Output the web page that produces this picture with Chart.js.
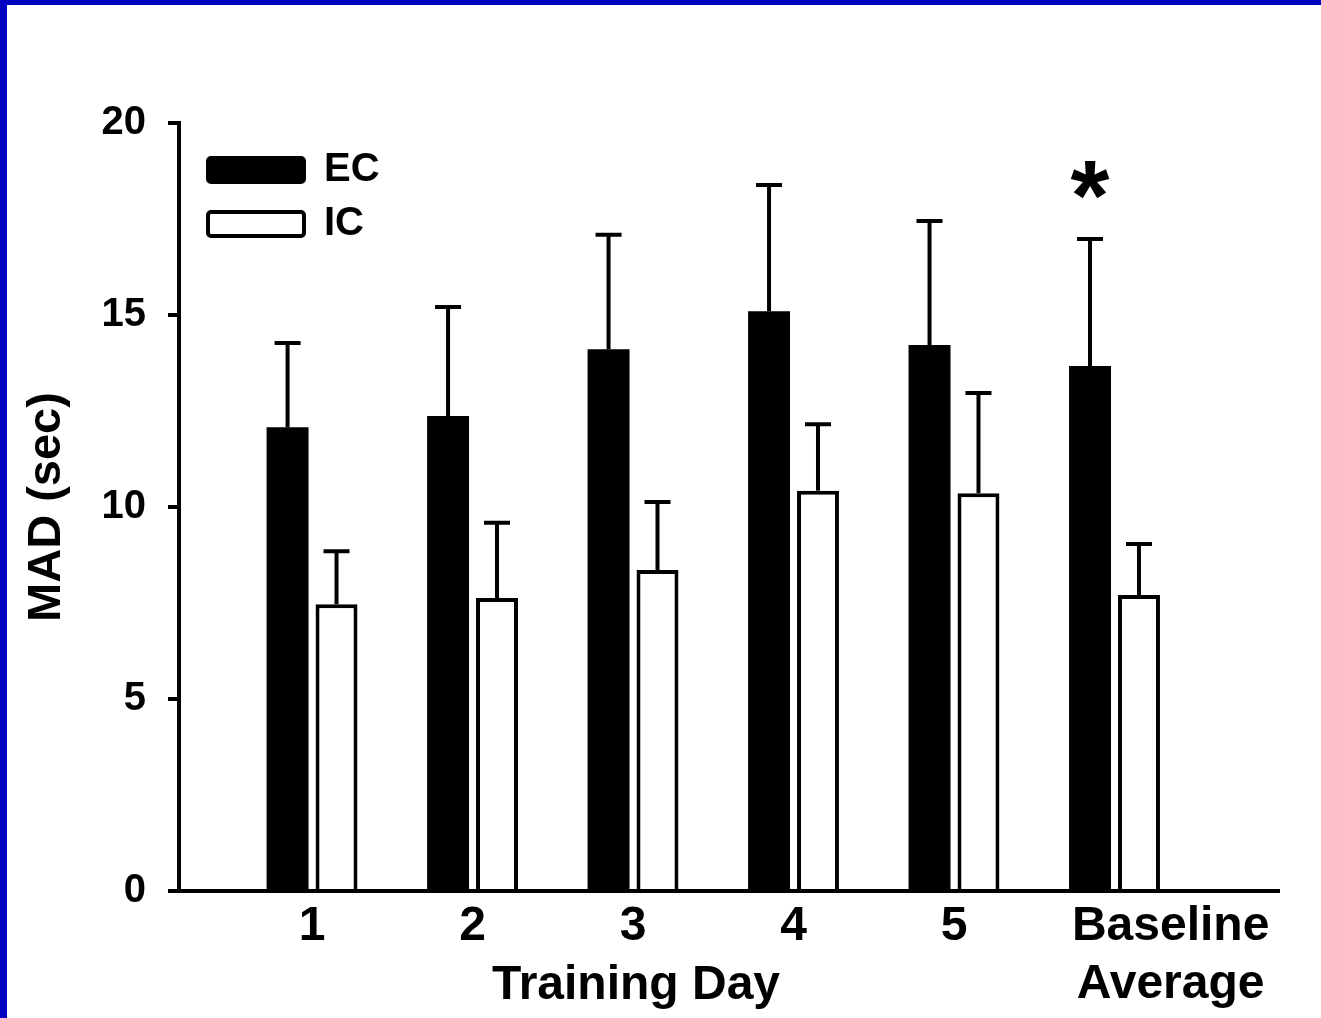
<!DOCTYPE html>
<html>
<head>
<meta charset="utf-8">
<script src="https://cdn.jsdelivr.net/npm/chart.js@4"></script>
<style>
  html, body { margin: 0; padding: 0; background: #fff; }
  #frame { width: 1314px; height: 1013px; border-left: 7px solid #0000c0; border-top: 5px solid #0000c0; background: #fff; }
  canvas { display: block; }
</style>
</head>
<body>
<div id="frame"><canvas id="madChart" width="1314" height="1013"></canvas></div>
<script>
// MAD per training day, EC vs IC (mean + upper SEM)
const dayLabels = ['1', '2', '3', '4', '5', ['Baseline', 'Average']];
const ecMean = [12.08, 12.37, 14.11, 15.10, 14.22, 13.67];
const ecErr  = [2.24, 2.89, 3.03, 3.34, 3.28, 3.36];
const icMean = [7.47, 7.63, 8.36, 10.42, 10.36, 7.71];
const icErr  = [1.43, 2.01, 1.82, 1.79, 2.66, 1.38];
const sigMarks = ['', '', '', '', '', '*'];
const yTicks = [0, 5, 10, 15, 20];

const FONT = "'Liberation Sans', Arial, sans-serif";

// upward-only error bars with caps
const errorBars = {
    id: 'errorBars',
    afterDatasetsDraw(chart) {
        const ctx = chart.ctx;
        const yScale = chart.scales.y;
        chart.data.datasets.forEach(function(ds, d) {
            const meta = chart.getDatasetMeta(d);
            meta.data.forEach(function(bar, i) {
                const top = yScale.getPixelForValue(ds.data[i].y + ds.errors[i]) + 2;
                ctx.save();
                ctx.strokeStyle = '#000';
                ctx.lineWidth = 4;
                ctx.beginPath();
                ctx.moveTo(bar.x, bar.y);
                ctx.lineTo(bar.x, top);
                ctx.moveTo(bar.x - 13, top);
                ctx.lineTo(bar.x + 13, top);
                ctx.stroke();
                ctx.restore();
            });
        });
    }
};

// asterisk above EC bar + "Training Day" under days 1-5
const extraText = {
    id: 'extraText',
    afterDraw(chart) {
        const ctx = chart.ctx;
        const xScale = chart.scales.x;
        const yScale = chart.scales.y;
        const meta = chart.getDatasetMeta(0);
        ctx.save();
        ctx.fillStyle = '#000';
        ctx.textAlign = 'center';
        ctx.font = 'bold 100px ' + FONT;
        sigMarks.forEach(function(mark, i) {
            if (!mark) return;
            const bar = meta.data[i];
            const cy = yScale.getPixelForValue(ecMean[i] + ecErr[i]) - 57;
            const m = ctx.measureText(mark);
            const base = cy - (m.actualBoundingBoxDescent - m.actualBoundingBoxAscent) / 2;
            ctx.textBaseline = 'alphabetic';
            ctx.fillText(mark, bar.x, base);
        });
        ctx.font = 'bold 48px ' + FONT;
        ctx.textBaseline = 'middle';
        const mid = (xScale.getPixelForValue(1) + xScale.getPixelForValue(5)) / 2;
        ctx.fillText('Training Day', mid + 3, chart.chartArea.bottom + 95);
        ctx.restore();
    }
};

// put the legend in the upper left of the plot
const legendPlace = {
    id: 'legendPlace',
    afterLayout(chart) {
        const lg = chart.legend;
        const ca = chart.chartArea;
        lg.left = ca.left + 15;
        lg.top = ca.top + 13;
        lg.right = ca.right;
        lg.bottom = ca.bottom;
        lg.width = lg.right - lg.left;
        lg.height = lg.bottom - lg.top;
    }
};

document.addEventListener('DOMContentLoaded', function() {
    Chart.defaults.font.family = FONT;
    Chart.defaults.font.weight = 'bold';
    Chart.defaults.color = '#000';

    const ctx = document.getElementById('madChart').getContext('2d');
    new Chart(ctx, {
        type: 'bar',
        data: {
            datasets: [{
                label: 'EC',
                data: ecMean.map(function(v, i) { return {x: i + 1, y: v}; }),
                errors: ecErr,
                backgroundColor: '#000',
                borderColor: '#000',
                borderWidth: 0
            }, {
                label: 'IC',
                data: icMean.map(function(v, i) { return {x: i + 1, y: v}; }),
                errors: icErr,
                backgroundColor: '#fff',
                borderColor: '#000',
                borderWidth: 4
            }]
        },
        options: {
            responsive: false,
            animation: false,
            events: [],
            categoryPercentage: 0.61,
            barPercentage: 0.857,
            layout: { padding: { top: 118, right: 42, bottom: 0, left: 0 } },
            scales: {
                x: {
                    type: 'linear',
                    min: 0.171,
                    max: 7.025,
                    offset: false,
                    afterBuildTicks: function(axis) {
                        // the two-line last label starts at the bar's left edge
                        axis.ticks = dayLabels.map(function(lbl, i) {
                            return {value: i + 1 + (Array.isArray(lbl) ? 0.35 : 0)};
                        });
                    },
                    afterFit: function(axis) { axis.height = 127; },
                    ticks: {
                        autoSkip: false,
                        maxRotation: 0,
                        padding: 7,
                        font: { size: 48, weight: 'bold', lineHeight: 1.21 },
                        callback: function(value) { return dayLabels[Math.round(value) - 1]; }
                    },
                    grid: { display: false, drawTicks: false, offset: false },
                    border: { display: true, color: '#000', width: 4 }
                },
                y: {
                    min: 0,
                    max: 20,
                    afterBuildTicks: function(axis) {
                        axis.ticks = yTicks.map(function(v) { return {value: v}; });
                    },
                    afterFit: function(axis) { axis.width = 172; },
                    ticks: {
                        padding: 22,
                        font: { size: 40, weight: 'bold' }
                    },
                    grid: {
                        display: true,
                        drawOnChartArea: false,
                        drawTicks: true,
                        tickLength: 11,
                        color: '#000',
                        lineWidth: 4
                    },
                    border: { display: true, color: '#000', width: 4 },
                    title: {
                        display: true,
                        text: 'MAD (sec)',
                        padding: { top: 12, bottom: 0 },
                        font: { size: 47, weight: 'bold' }
                    }
                }
            },
            plugins: {
                legend: {
                    position: 'chartArea',
                    align: 'start',
                    labels: {
                        boxWidth: 96,
                        boxHeight: 24,
                        padding: 14,
                        useBorderRadius: true,
                        borderRadius: 3,
                        font: { size: 40, weight: 'bold' },
                        color: '#000',
                        generateLabels: function(chart) {
                            const items = Chart.defaults.plugins.legend.labels.generateLabels(chart);
                            items.forEach(function(it) {
                                it.lineWidth = 4;
                                it.strokeStyle = '#000';
                            });
                            return items;
                        }
                    }
                },
                tooltip: { enabled: false }
            }
        },
        plugins: [errorBars, extraText, legendPlace]
    });
});
</script>
</body>
</html>
